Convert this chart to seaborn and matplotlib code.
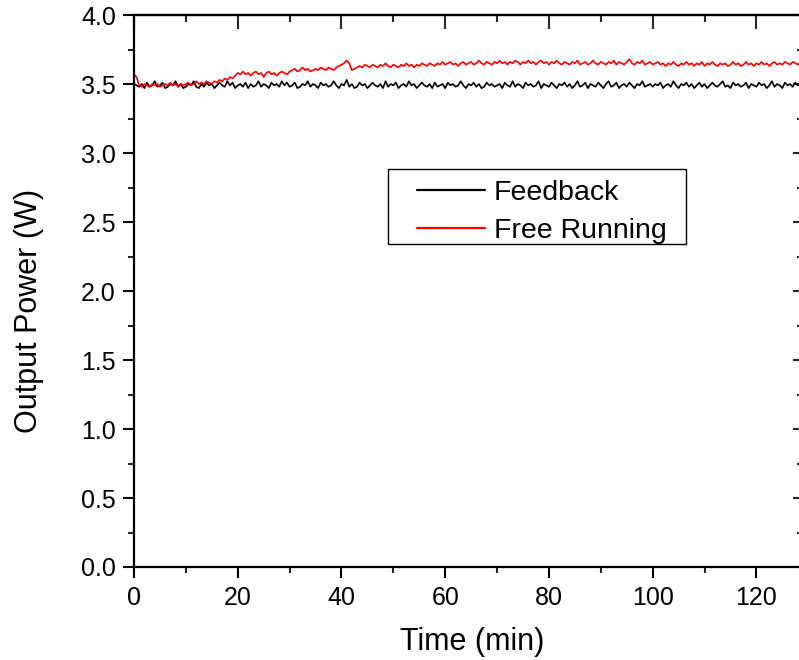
import numpy as np
import pandas as pd
import matplotlib
matplotlib.use("Agg")
import matplotlib.pyplot as plt
from matplotlib.ticker import MultipleLocator, FormatStrFormatter
from matplotlib.lines import Line2D
from matplotlib.patches import Rectangle
import seaborn as sns

# ---- data (0.5 min sampling from t = 0) ----
t_start = 0.0
t_step = 0.5

feedback = [
    3.50, 3.49, 3.48, 3.50, 3.47, 3.51, 3.48, 3.49, 3.52, 3.48, 3.49, 3.51, 3.47, 3.48, 3.50, 3.49, 3.52, 3.48, 3.50, 3.47,
    3.48, 3.50, 3.49, 3.52, 3.48, 3.47, 3.50, 3.48, 3.51, 3.49, 3.50, 3.47, 3.49, 3.51, 3.49, 3.48, 3.52, 3.49, 3.51, 3.47,
    3.49, 3.50, 3.48, 3.51, 3.47, 3.50, 3.48, 3.49, 3.52, 3.48, 3.50, 3.49, 3.47, 3.51, 3.49, 3.50, 3.48, 3.52, 3.49, 3.51,
    3.48, 3.49, 3.51, 3.47, 3.48, 3.50, 3.49, 3.52, 3.48, 3.50, 3.49, 3.47, 3.51, 3.49, 3.50, 3.48, 3.49, 3.52, 3.49, 3.47,
    3.50, 3.49, 3.53, 3.48, 3.50, 3.47, 3.48, 3.51, 3.49, 3.50, 3.47, 3.49, 3.51, 3.49, 3.48, 3.50, 3.47, 3.52, 3.48, 3.50,
    3.49, 3.51, 3.47, 3.49, 3.50, 3.48, 3.52, 3.49, 3.50, 3.47, 3.49, 3.51, 3.49, 3.48, 3.50, 3.47, 3.51, 3.48, 3.49, 3.50,
    3.47, 3.51, 3.49, 3.50, 3.48, 3.49, 3.52, 3.49, 3.47, 3.50, 3.49, 3.51, 3.48, 3.50, 3.47, 3.48, 3.51, 3.49, 3.50, 3.48,
    3.49, 3.50, 3.47, 3.51, 3.49, 3.48, 3.52, 3.48, 3.50, 3.49, 3.47, 3.51, 3.49, 3.50, 3.48, 3.49, 3.52, 3.47, 3.50, 3.49,
    3.48, 3.51, 3.49, 3.47, 3.50, 3.49, 3.51, 3.48, 3.50, 3.47, 3.49, 3.52, 3.48, 3.49, 3.51, 3.47, 3.50, 3.49, 3.48, 3.51,
    3.49, 3.47, 3.50, 3.52, 3.48, 3.49, 3.51, 3.47, 3.49, 3.50, 3.48, 3.51, 3.49, 3.47, 3.50, 3.49, 3.52, 3.48, 3.49, 3.50,
    3.48, 3.50, 3.49, 3.51, 3.47, 3.49, 3.50, 3.48, 3.52, 3.49, 3.47, 3.50, 3.49, 3.51, 3.48, 3.50, 3.47, 3.49, 3.51, 3.48,
    3.50, 3.47, 3.49, 3.51, 3.49, 3.48, 3.50, 3.52, 3.48, 3.49, 3.47, 3.51, 3.49, 3.50, 3.48, 3.49, 3.51, 3.47, 3.50, 3.49,
    3.48, 3.51, 3.49, 3.50, 3.47, 3.49, 3.52, 3.48, 3.50, 3.49, 3.47, 3.51, 3.49, 3.50, 3.48, 3.51, 3.49, 3.50,
]

free_running = [
    3.57, 3.55, 3.49, 3.48, 3.50, 3.49, 3.48, 3.50, 3.49, 3.50, 3.48, 3.49, 3.50, 3.49, 3.51, 3.49, 3.50, 3.48, 3.50, 3.49,
    3.50, 3.51, 3.49, 3.50, 3.52, 3.50, 3.51, 3.50, 3.52, 3.51, 3.50, 3.52, 3.51, 3.53, 3.52, 3.54, 3.53, 3.55, 3.54, 3.56,
    3.58, 3.57, 3.59, 3.57, 3.58, 3.56, 3.58, 3.59, 3.57, 3.58, 3.55, 3.58, 3.59, 3.57, 3.58, 3.56, 3.58, 3.59, 3.58, 3.57,
    3.59, 3.60, 3.61, 3.59, 3.60, 3.62, 3.60, 3.61, 3.59, 3.60, 3.61, 3.60, 3.62, 3.61, 3.60, 3.62, 3.61, 3.60, 3.62, 3.63,
    3.64, 3.65, 3.67, 3.65, 3.60, 3.61, 3.62, 3.63, 3.62, 3.64, 3.63, 3.62, 3.64, 3.63, 3.62, 3.64, 3.63, 3.65, 3.63, 3.62,
    3.64, 3.63, 3.62, 3.64, 3.63, 3.65, 3.63, 3.64, 3.62, 3.64, 3.63, 3.65, 3.64, 3.63, 3.65, 3.64, 3.63, 3.65, 3.64, 3.66,
    3.64, 3.65, 3.66, 3.64, 3.65, 3.63, 3.65, 3.66, 3.64, 3.65, 3.66, 3.64, 3.65, 3.67, 3.65, 3.64, 3.66, 3.65, 3.64, 3.66,
    3.65, 3.67, 3.65, 3.66, 3.64, 3.66, 3.65, 3.67, 3.66, 3.64, 3.66, 3.65, 3.67, 3.65, 3.66, 3.64, 3.66, 3.67, 3.65, 3.66,
    3.64, 3.66, 3.65, 3.67, 3.65, 3.64, 3.66, 3.65, 3.64, 3.66, 3.65, 3.67, 3.64, 3.65, 3.66, 3.64, 3.65, 3.67, 3.65, 3.64,
    3.66, 3.65, 3.64, 3.66, 3.65, 3.67, 3.64, 3.66, 3.65, 3.64, 3.66, 3.68, 3.65, 3.64, 3.66, 3.65, 3.67, 3.64, 3.65, 3.66,
    3.64, 3.65, 3.66, 3.64, 3.65, 3.63, 3.65, 3.64, 3.66, 3.64, 3.63, 3.65, 3.64, 3.66, 3.64, 3.65, 3.63, 3.65, 3.64, 3.66,
    3.63, 3.65, 3.64, 3.66, 3.64, 3.63, 3.65, 3.64, 3.65, 3.63, 3.64, 3.66, 3.64, 3.65, 3.63, 3.64, 3.66, 3.64, 3.65, 3.63,
    3.65, 3.64, 3.66, 3.64, 3.65, 3.63, 3.65, 3.66, 3.64, 3.65, 3.64, 3.66, 3.65, 3.64, 3.66, 3.65, 3.64, 3.66,
]

series_names = ["Feedback", "Free Running"]
series_colors = ["black", "red"]

x_label = "Time (min)"
y_label = "Output Power (W)"

# ---- build long-form table ----
df = pd.concat([
    pd.DataFrame({"Time": t_start + t_step * np.arange(len(feedback)),
                  "Power": feedback, "Series": series_names[0]}),
    pd.DataFrame({"Time": t_start + t_step * np.arange(len(free_running)),
                  "Power": free_running, "Series": series_names[1]}),
])

sns.set_style("ticks")
plt.rcParams["font.family"] = ["Liberation Sans", "DejaVu Sans"]
plt.rcParams["text.color"] = "black"
plt.rcParams["axes.labelcolor"] = "black"

W, H = 799, 660
fig = plt.figure(figsize=(W / 100, H / 100), dpi=100)
left_px, right_px, top_px, bottom_px = 134, 801, 15, 567
ax_w = right_px - left_px
ax_h = bottom_px - top_px
ax = fig.add_axes([left_px / W, 1 - bottom_px / H, ax_w / W, ax_h / H])

def px2ax(xp, yp):
    return (xp - left_px) / ax_w, (bottom_px - yp) / ax_h

sns.lineplot(data=df, x="Time", y="Power", hue="Series",
             hue_order=series_names, palette=dict(zip(series_names, series_colors)),
             linewidth=1.2, ax=ax, legend=False)

ax.set_xlim(0, 128.6)
ax.set_ylim(0, 4.0)

ax.xaxis.set_major_locator(MultipleLocator(20))
ax.xaxis.set_minor_locator(MultipleLocator(10))
ax.yaxis.set_major_locator(MultipleLocator(0.5))
ax.yaxis.set_minor_locator(MultipleLocator(0.25))
ax.yaxis.set_major_formatter(FormatStrFormatter("%.1f"))

for s in ax.spines.values():
    s.set_linewidth(1.6)
    s.set_color("black")
    s.set_visible(True)

ax.tick_params(axis="both", which="major", direction="out", length=8, width=1.5,
               labelsize=18, colors="black", labelcolor="black", pad=5)
ax.tick_params(axis="both", which="minor", direction="out", length=4.5, width=1.5)
ax.tick_params(axis="x", which="major", pad=6)

# mirrored top / right ticks pointing inward
axt = ax.secondary_xaxis("top")
axt.xaxis.set_major_locator(MultipleLocator(20))
axt.xaxis.set_minor_locator(MultipleLocator(10))
axt.tick_params(which="major", direction="in", length=10, width=1.5, labeltop=False)
axt.tick_params(which="minor", direction="in", length=5, width=1.5)
axt.spines["top"].set_linewidth(1.6)
axr = ax.secondary_yaxis("right")
axr.yaxis.set_major_locator(MultipleLocator(0.5))
axr.yaxis.set_minor_locator(MultipleLocator(0.25))
axr.tick_params(which="major", direction="in", length=6, width=1.5, labelright=False)
axr.tick_params(which="minor", direction="in", length=3, width=1.5)

ax.set_xlabel(x_label, fontsize=22, color="black")
ax.set_ylabel(y_label, fontsize=22, color="black")
ax.xaxis.set_label_coords(*px2ax(472, 627))
ax.yaxis.set_label_coords(*px2ax(44, 311))

# legend: frame drawn as a rectangle, entries placed inside
fx0, fy0 = px2ax(388, 244)
fx1, fy1 = px2ax(686, 169)
ax.add_patch(Rectangle((fx0, fy0), fx1 - fx0, fy1 - fy0, transform=ax.transAxes,
                       facecolor="white", edgecolor="black", linewidth=1.0, zorder=5))

handles = [Line2D([], [], color=c, linewidth=1.6) for c in series_colors]
leg = ax.legend(handles, series_names, loc="upper left",
                bbox_to_anchor=px2ax(417, 180),
                fontsize=20.5, frameon=False, handlelength=2.4, handletextpad=0.3,
                borderpad=0, labelspacing=0.42, borderaxespad=0)
for t in leg.get_texts():
    t.set_color("black")
leg.set_zorder(6)

fig.savefig("out.png", dpi=100)
